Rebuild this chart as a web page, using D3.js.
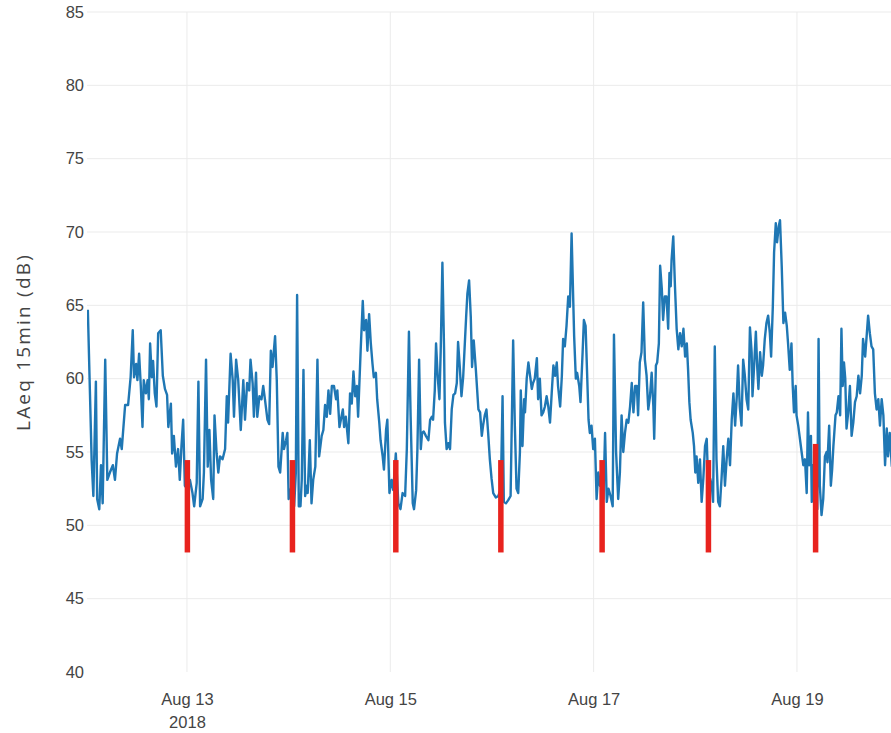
<!DOCTYPE html>
<html>
<head>
<meta charset="utf-8">
<script src="https://cdn.jsdelivr.net/npm/d3@7"></script>
<style>
  html, body { margin: 0; padding: 0; background: #fff; }
  #plot { width: 891px; height: 733px; overflow: hidden; }
</style>
</head>
<body>
<div id="plot"></div>
<script>
console.log("Initializing chart...");

// Canvas size
const width = 891;
const height = 733;

// Plot area
const margin = { left: 87, right: 0, top: 12, bottom: 61 };

// Start of the hour offsets below (local time)
const startDate = new Date(2018, 7, 12, 0, 0);

// Hours since Aug 12 00:00 for each sample
const sampleHours = [
  0.6,1.5,1.9,2.5,2.8,3.3,3.7,4.1,4.7,5.2,
  5.8,6.5,7.0,7.5,8.2,8.6,9.4,10.1,10.7,11.2,
  11.5,12.0,12.3,12.7,13.1,13.5,13.8,14.3,14.7,15.0,
  15.3,15.7,16.0,16.4,16.8,17.2,17.8,18.3,18.8,19.3,
  19.6,20.2,20.5,20.9,21.4,21.9,22.3,22.7,23.1,23.5,
  24.3,24.7,25.3,25.7,26.3,26.7,27.1,27.7,28.0,28.5,
  28.9,29.3,29.7,30.2,30.5,31.0,31.4,31.8,32.4,33.0,
  33.4,33.7,34.3,34.8,35.1,35.6,36.1,36.7,37.3,37.7,
  38.2,38.7,39.0,39.5,39.8,40.3,40.6,41.1,41.6,42.0,
  42.4,43.0,43.4,43.8,44.2,44.8,45.2,45.6,46.0,46.6,
  46.9,47.4,47.7,48.0,48.7,49.3,49.7,50.0,50.4,50.8,
  51.1,51.5,51.9,52.3,52.5,53.0,53.4,53.8,54.3,54.8,
  55.2,55.8,56.2,56.6,57.0,57.4,57.8,58.2,58.7,59.2,
  59.5,60.0,60.8,61.1,61.5,62.1,62.5,62.9,63.3,63.7,
  64.1,64.4,65.0,65.5,65.8,66.3,66.6,67.0,67.4,67.8,
  68.1,68.6,68.9,69.4,69.7,70.2,70.5,71.0,71.3,71.8,
  72.3,72.7,73.3,73.9,74.4,74.9,75.5,75.9,76.4,76.8,
  77.3,77.6,78.1,78.4,78.8,79.2,79.5,79.9,80.4,81.0,
  81.4,81.8,82.1,82.5,82.8,83.2,83.6,83.9,84.3,84.7,
  84.9,85.3,85.7,86.1,86.5,86.9,87.3,87.7,88.0,88.4,
  88.8,89.2,89.9,90.2,90.6,91.0,91.3,91.7,92.2,92.8,
  93.2,93.6,93.9,94.3,94.7,95.1,95.5,95.9,96.3,96.9,
  97.5,98.1,98.5,98.8,99.3,99.8,100.4,101.0,101.4,101.8,
  102.2,102.6,102.8,103.2,103.6,103.8,104.2,104.6,105.0,105.4,
  105.7,106.1,106.6,106.9,107.3,107.7,108.1,108.5,108.9,109.3,
  109.7,110.1,110.5,110.9,111.3,111.6,112.1,112.5,112.8,113.2,
  113.6,114.0,114.4,114.8,115.2,115.4,115.8,116.1,116.6,116.9,
  117.4,117.7,118.1,118.5,118.8,119.1,119.5,119.9,120.3,120.7,
  121.1,121.5,121.9,122.3,122.7,123.1,123.5,124.0,124.5,124.8,
  125.3,125.8,126.2,126.6,127.0,127.4,127.8,128.2,128.6,129.0,
  129.4,129.8,130.2,130.5,130.9,131.3,131.7,132.1,132.5,132.9,
  133.3,133.7,134.1,134.3,134.7,135.0,135.4,135.7,136.1,136.4,
  136.8,137.2,137.6,137.9,138.2,138.4,138.8,139.2,139.6,140.0,
  140.4,140.8,141.2,141.6,142.0,142.3,142.6,142.9,143.4,143.7,
  144.0,144.3,144.7,145.1,145.5,145.9,146.3,146.7,147.1,147.5,
  147.9,148.2,148.6,149.0,149.4,149.8,150.2,150.6,151.0,151.4,
  151.8,152.2,152.6,153.0,153.4,153.8,154.1,154.5,154.9,155.3,
  155.7,156.1,156.5,156.9,157.3,157.5,157.8,158.3,158.6,158.9,
  159.3,159.7,160.0,160.4,160.8,161.2,161.6,161.9,162.3,162.6,
  163.0,163.3,163.7,164.0,164.4,164.8,165.2,165.6,165.9,166.3,
  166.7,167.0,167.3,167.7,167.9,168.3,168.7,169.1,169.5,169.9,
  170.3,170.6,170.9,171.3,171.5,171.8,172.2,172.8,173.1,173.4,
  173.8,174.2,174.6,175.0,175.2,175.6,176.0,176.3,176.6,177.1,
  177.4,177.8,178.2,178.5,178.8,179.1,179.4,179.7,180.1,180.5,
  180.9,181.3,181.7,182.1,182.5,182.9,183.3,183.6,184.1,184.5,
  184.8,185.2,185.6,186.0,186.4,186.8,187.2,187.6,188.0,188.4,
  188.8,189.2,189.5,189.9,190.4
];

// LAeq 15min values (dB), same order as sampleHours
const laeqValues = [
  64.7,54.4,52.0,59.8,51.8,51.1,54.1,51.5,61.3,53.1,
  53.6,54.1,53.1,54.9,55.9,55.2,58.2,58.2,60.1,63.3,
  60.1,61.0,59.9,61.7,59.5,56.7,59.9,59.0,59.9,58.6,
  62.4,60.1,61.2,59.0,58.1,63.1,63.3,60.2,59.3,58.9,
  56.7,58.3,54.9,56.1,54.0,55.2,53.1,55.4,57.2,52.7,
  52.4,53.1,52.2,51.3,52.9,59.8,51.3,51.8,53.6,61.3,
  54.0,56.5,53.1,51.8,57.5,54.9,53.6,54.7,54.5,55.2,
  58.8,57.0,61.7,59.9,57.4,61.3,59.9,56.5,59.9,57.2,
  59.7,59.2,61.3,59.7,57.4,60.4,57.4,58.8,58.6,59.5,
  58.6,57.2,56.9,61.9,60.8,62.9,59.9,54.0,53.6,56.3,
  55.2,55.8,56.3,51.8,52.7,51.3,53.6,65.7,51.3,51.3,
  53.1,60.6,52.0,52.7,52.2,55.8,51.5,53.1,54.0,61.3,
  54.7,56.1,56.5,58.2,57.4,59.2,57.6,59.5,59.5,58.6,
  59.2,56.7,57.9,56.7,57.4,55.6,59.0,58.3,60.5,58.8,
  59.5,57.4,61.9,65.3,63.3,64.0,61.9,64.4,62.4,61.0,
  60.1,60.4,58.6,57.0,55.8,54.7,53.8,56.5,57.2,52.2,
  53.1,52.4,54.9,51.5,51.1,52.2,52.0,55.2,63.2,57.4,
  51.5,51.1,52.4,55.2,61.3,55.2,56.3,56.4,56.1,55.8,
  57.2,57.4,57.2,59.2,62.4,60.1,58.6,61.9,67.9,61.9,
  57.0,55.2,55.6,55.2,57.9,58.9,59.0,59.7,62.5,60.8,
  58.8,60.1,64.2,65.8,66.7,64.2,60.8,62.6,60.6,57.9,
  57.7,56.1,56.8,57.5,57.9,56.3,54.5,53.2,52.2,51.9,
  52.0,52.5,58.8,51.6,51.5,51.7,52.0,62.6,56.8,52.5,
  52.2,55.0,59.2,55.4,58.6,57.7,60.0,61.1,60.2,59.3,
  59.7,60.0,61.4,58.6,60.0,57.5,57.7,58.1,58.8,58.1,
  57.0,59.0,60.9,60.2,61.1,59.5,58.1,60.2,62.7,62.2,
  63.6,65.6,64.9,69.9,65.2,62.9,60.0,60.4,59.5,58.4,
  61.8,64.0,63.6,60.0,57.2,56.3,56.8,55.2,55.9,51.8,
  53.6,52.7,53.2,51.8,56.3,51.6,52.5,52.0,51.3,63.0,
  55.0,51.8,53.6,57.5,55.0,56.3,57.2,57.0,58.1,59.7,
  57.7,59.5,59.5,57.5,61.1,61.8,65.2,61.3,60.2,57.9,
  58.8,60.4,58.1,55.9,60.9,61.1,62.4,67.7,66.1,64.0,
  65.6,65.6,63.4,67.2,66.3,68.1,69.7,66.3,63.4,62.0,
  63.1,62.2,63.4,61.5,62.4,60.6,58.4,57.2,56.3,55.4,
  53.6,54.7,52.9,54.5,51.6,53.2,55.4,55.9,52.2,53.2,
  52.7,51.6,62.2,54.5,51.6,51.3,53.2,55.4,52.7,54.5,
  55.9,54.1,57.2,59.0,56.8,58.8,60.9,58.1,56.8,61.3,
  60.2,58.6,57.9,63.5,61.8,58.8,60.4,63.2,60.9,59.3,
  61.8,60.2,60.9,62.7,63.8,64.3,63.1,61.5,64.9,68.6,
  70.6,69.3,70.4,70.8,67.7,63.8,64.5,63.6,62.4,60.6,
  62.4,59.5,57.7,59.5,57.5,56.8,55.9,55.0,54.1,54.5,
  52.2,57.7,54.1,56.1,51.6,54.1,52.9,51.1,62.7,52.7,
  50.7,51.8,54.7,55.0,54.3,56.8,52.7,53.8,55.4,57.5,
  57.7,58.8,57.5,63.4,59.5,61.1,60.0,56.6,57.7,59.5,
  56.1,57.0,58.4,58.8,60.2,59.0,60.2,62.7,61.5,63.1,
  64.3,63.1,62.2,62.0,59.0,57.9,58.6,56.8,58.6,57.5,
  54.1,56.6,54.7,56.3,54.0
];

// Red night markers (hours since Aug 12 00:00) and their value span
const markerHours = [24.1, 48.9, 73.3, 98.1, 122.0, 147.1, 172.4];
const markerTops = [54.45, 54.45, 54.45, 54.45, 54.45, 54.45, 55.55];
const markerBottom = 48.15;

// Axis ticks
const yTicks = [40, 45, 50, 55, 60, 65, 70, 75, 80, 85];
const xTickHours = [24, 72, 120, 168];
const xTickLabels = [["Aug 13", "2018"], ["Aug 15"], ["Aug 17"], ["Aug 19"]];
const yTitle = "LAeq 15min (dB)";

// Visible time range and value range
const xRangeHours = [0.4, 190.2];
const yRange = [40, 85];

console.log("Samples:", sampleHours.length, laeqValues.length);

const toDate = h => new Date(startDate.getTime() + h * 3600 * 1000);

const data = sampleHours.map((h, i) => ({ date: toDate(h), value: laeqValues[i] }));

const x = d3.scaleTime()
  .domain(xRangeHours.map(toDate))
  .range([margin.left, width - margin.right]);

const y = d3.scaleLinear()
  .domain(yRange)
  .range([height - margin.bottom, margin.top]);

const svg = d3.select("#plot")
  .append("svg")
  .attr("width", width)
  .attr("height", height)
  .style("font-family", "'Open Sans', sans-serif");

svg.append("defs").append("clipPath")
  .attr("id", "plot-clip")
  .append("rect")
  .attr("x", margin.left)
  .attr("y", 0)
  .attr("width", width - margin.left - margin.right)
  .attr("height", height - margin.bottom);

// Horizontal grid (no line on the bottom edge)
svg.append("g")
  .selectAll("line")
  .data(yTicks.filter(d => d !== yRange[0]))
  .enter().append("line")
  .attr("x1", margin.left)
  .attr("x2", width - margin.right)
  .attr("y1", d => y(d))
  .attr("y2", d => y(d))
  .attr("stroke", "#ebebeb")
  .attr("stroke-width", 1);

// Vertical grid
svg.append("g")
  .selectAll("line")
  .data(xTickHours)
  .enter().append("line")
  .attr("x1", d => x(toDate(d)))
  .attr("x2", d => x(toDate(d)))
  .attr("y1", margin.top)
  .attr("y2", height - margin.bottom)
  .attr("stroke", "#ebebeb")
  .attr("stroke-width", 1);

// Y axis labels
const yAxis = svg.append("g")
  .attr("transform", `translate(${margin.left - 3},0)`)
  .call(d3.axisLeft(y).tickValues(yTicks).tickSize(0).tickPadding(0));
yAxis.select(".domain").remove();
yAxis.selectAll("text")
  .style("font-size", "16.5px")
  .attr("fill", "#444");

// X axis labels (two lines for the first one)
const xAxis = svg.append("g")
  .attr("transform", `translate(0,${height - margin.bottom})`)
  .call(d3.axisBottom(x).tickValues(xTickHours.map(toDate)).tickSize(0).tickFormat(""));
xAxis.select(".domain").remove();
xAxis.selectAll(".tick text").remove();
xAxis.selectAll(".tick")
  .each(function (d, i) {
    const t = d3.select(this).append("text")
      .attr("fill", "#444")
      .attr("text-anchor", "middle")
      .style("font-size", "16.5px");
    xTickLabels[i].forEach((line, j) => {
      t.append("tspan")
        .attr("x", 0)
        .attr("y", 33 + j * 23)
        .text(line);
    });
  });

// Y axis title
svg.append("text")
  .attr("transform", `translate(30,${(margin.top + height - margin.bottom) / 2}) rotate(-90)`)
  .attr("text-anchor", "middle")
  .attr("fill", "#444")
  .style("font-size", "19px")
  .style("letter-spacing", "2.2px")
  .text(yTitle);

// The LAeq line
const line = d3.line()
  .x(d => x(d.date))
  .y(d => y(d.value));

svg.append("path")
  .datum(data)
  .attr("clip-path", "url(#plot-clip)")
  .attr("d", line)
  .attr("fill", "none")
  .attr("stroke", "#1f77b4")
  .attr("stroke-width", 2.4)
  .attr("stroke-linejoin", "round");

// Red markers
svg.append("g")
  .selectAll("rect")
  .data(markerHours)
  .enter().append("rect")
  .attr("x", d => x(toDate(d)) - 2.75)
  .attr("width", 5.5)
  .attr("y", (d, i) => y(markerTops[i]))
  .attr("height", (d, i) => y(markerBottom) - y(markerTops[i]))
  .attr("fill", "#e8231e");

console.log("Chart done.");
</script>
</body>
</html>
